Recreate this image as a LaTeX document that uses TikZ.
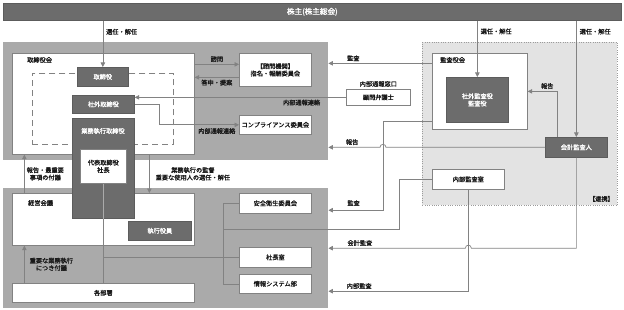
\documentclass[tikz,border=0pt]{standalone}
\usepackage{fontspec}
\setmainfont{Noto Sans CJK JP}[FakeBold=1.2]
\usepackage{tikz}
\usetikzlibrary{arrows.meta,positioning,calc}
\usepackage{xcolor}
\definecolor{darkbox}{RGB}{108,108,108}
\definecolor{regiongray}{RGB}{170,170,170}
\definecolor{auditgray}{RGB}{227,227,227}
\definecolor{linegray}{RGB}{130,130,130}
\definecolor{textgray}{RGB}{25,25,25}

\begin{document}
\begin{tikzpicture}[x=1pt,y=-1pt,>={Triangle[length=4.5pt,width=4.5pt]},
  font=\fontsize{6.2}{7.4}\selectfont,
  wbox/.style={draw=linegray,line width=0.7pt,fill=white,anchor=north west,inner sep=0pt,text=textgray},
  dbox/.style={draw=darkbox!85!black,line width=0.7pt,fill=darkbox,anchor=north west,inner sep=0pt,text=white},
  region/.style={fill=regiongray,anchor=north west,inner sep=0pt},
  conn/.style={draw=linegray,line width=0.7pt},
  tag/.style={text=textgray,inner sep=1pt}]
  \useasboundingbox (0,0) rectangle (624,310);

  % shareholders
  \node[dbox,minimum width=618pt,minimum height=17pt,font=\fontsize{7.6}{8.6}\selectfont] (kabunushi) at (3,3) {株主(株主総会)};

  % regions
  \node[region,minimum width=325pt,minimum height=118pt] (upper) at (3,42) {};
  \node[region,minimum width=325pt,minimum height=120pt] (lower) at (3,188) {};
  \node[draw=linegray!80,line width=0.7pt,dash pattern=on 1pt off 1.3pt,fill=auditgray,anchor=north west,inner sep=0pt,minimum width=195pt,minimum height=163pt] (kansaarea) at (422,42) {};

  % board of directors
  \node[wbox,minimum width=182pt,minimum height=101pt] (torikai) at (12,53) {};
  \node[tag,anchor=west] (torikailbl) at (26,60) {取締役会};
  \node[draw=linegray,line width=0.7pt,dash pattern=on 6pt off 4pt,anchor=north west,inner sep=0pt,minimum width=141pt,minimum height=71pt] (innerdash) at (32,73) {};
  \node[dbox,minimum width=51pt,minimum height=19pt] (torishimari) at (77,67) {取締役};
  \node[dbox,minimum width=62pt,minimum height=18pt] (shagai) at (72,95) {社外取締役};

  % management meeting
  \node[wbox,minimum width=182pt,minimum height=52pt] (keiei) at (12,193) {};
  \node[tag,anchor=west] (keieilbl) at (27,203) {経営会議};
  \node[dbox,minimum width=63pt,minimum height=19pt] (shikko) at (128,221) {執行役員};
  \node[wbox,minimum width=182pt,minimum height=19pt] (kakubusho) at (12,283) {各部署};

  \node[dbox,minimum width=62pt,minimum height=100pt] (gyomu) at (72,118) {};
  \node[tag,text=white] (gyomulbl) at (103,131) {業務執行取締役};
  \node[wbox,minimum width=46pt,minimum height=34pt,align=center] (shacho) at (80,149) {代表取締役\\社長};

  % committees and departments
  \node[wbox,minimum width=72pt,minimum height=33pt,align=center] (shimon) at (239,53) {【諮問機関】\\指名・報酬委員会};
  \node[wbox,minimum width=72pt,minimum height=19pt] (compliance) at (239,115) {コンプライアンス委員会};
  \node[wbox,minimum width=72pt,minimum height=20pt] (anzen) at (239,193) {安全衛生委員会};
  \node[wbox,minimum width=72pt,minimum height=20pt] (shachoshitsu) at (239,247) {社長室};
  \node[wbox,minimum width=72pt,minimum height=19pt] (joho) at (239,274) {情報システム部};

  % lawyer
  \node[wbox,minimum width=64pt,minimum height=16pt] (komon) at (346,89) {顧問弁護士};
  \node[tag,above=1pt of komon] (madoguchi) {内部通報窓口};

  % auditors
  \node[wbox,minimum width=95pt,minimum height=76pt] (kansayakukai) at (432,53) {};
  \node[tag,anchor=west] (kansayakukailbl) at (439,60) {監査役会};
  \node[dbox,minimum width=62pt,minimum height=45pt,align=center] (kansayaku) at (446,77) {社外監査役\\監査役};
  \node[dbox,minimum width=62pt,minimum height=20pt] (kaikei) at (545,137) {会計監査人};
  \node[wbox,minimum width=72pt,minimum height=20pt] (naibu) at (432,169) {内部監査室};
  \node[tag,anchor=south east] (renkei) at (615,203) {【連携】};

  % appointment
  \draw[conn,->] (kabunushi.south -| torishimari) -- node[tag,right=2pt,pos=0.24] {選任・解任} (torishimari.north);
  \draw[conn,->] (kabunushi.south -| kansayaku) -- node[tag,right=2pt,pos=0.19] {選任・解任} (kansayaku.north);
  \draw[conn,->] (kabunushi.south -| kaikei) -- node[tag,right=2pt,pos=0.094] {選任・解任} (kaikei.north);

  % advisory committee
  \coordinate (shimonin) at ([yshift=5.5pt]shimon.west);
  \coordinate (shimonout) at ([yshift=-7.5pt]shimon.west);
  \draw[conn,->] (torikai.east |- shimonin) -- node[tag,above=1pt] {諮問} (shimonin);
  \draw[conn,->] (shimonout) -- node[tag,below=1pt] {答申・提案} (torikai.east |- shimonout);

  % whistleblowing
  \draw[conn,->] (komon.west) -- node[tag,below=1pt,pos=0.21] {内部通報連絡} (shagai.east |- komon.west);
  \draw[conn,->] (shagai.east) -- ++(25,0) |- node[tag,below=2pt,pos=0.86] {内部通報連絡} (compliance.west);

  % audit lines
  \draw[conn,->] ([yshift=28pt]kansayakukai.west) coordinate (kansaA) -- node[tag,above=1pt,pos=0.76] {監査} (upper.east |- kansaA);
  \draw[conn,->] ([yshift=-30pt]kansayakukai.west) -- ++(-49,0) coordinate (kansaB) |- node[tag,above=3pt,pos=0.77] {監査} ([yshift=38pt]lower.east);
  \draw[conn,->] (kaikei.west) -- ($(kansaB |- kaikei.west)+(3,0)$) .. controls +(0,-4) and +(0,-4) .. ($(kansaB |- kaikei.west)+(-3,0)$) -- node[tag,above=1pt,pos=0.54] {報告} (upper.east |- kaikei.west);
  \draw[conn,->] ([xshift=-19pt]kaikei.north) |- node[tag,above=1pt,pos=0.67] {報告} (kansayakukai.east);
  \draw[conn,->] (kaikei.south) -- (kaikei.south |- lower.east) -- ($(naibu.south |- lower.east)+(3,0)$) .. controls +(0,-4) and +(0,-4) .. ($(naibu.south |- lower.east)+(-3,0)$) -- node[tag,above=1pt,pos=0.77] {会計監査} (lower.east);
  \draw[conn,->] (naibu.south) |- node[tag,above=1pt,pos=0.89] {内部監査} ([yshift=-43pt]lower.east);

  % internal audit to departments
  \coordinate (busT) at ([xshift=-16pt]anzen.west);
  \coordinate (busB) at ([xshift=-16pt]joho.west);
  \coordinate (busM) at (223,229);
  \draw[conn] (anzen.west) -- (busT) -- (busB) -- (joho.west);
  \draw[conn] (naibu.west) -- ++(-33,0) |- (busM);

  % president lines
  \draw[conn] (shacho.south) -- (kakubusho.north);
  \draw[conn,draw=regiongray] (shacho.south) -- (shacho.south |- gyomu.south);
  \draw[conn] (shacho.south |- shachoshitsu.west) -- (shachoshitsu.west);

  % board <-> management meeting
  \draw[conn,->] ([xshift=-79pt]keiei.north) -- node[tag,right=1pt,align=center] {報告・最重要\\事項の付議} ([xshift=-79pt]torikai.south);
  \draw[conn,->] ([xshift=46pt]torikai.south) -- node[tag,right=5pt,align=center] {業務執行の監督\\重要な使用人の選任・解任} ([xshift=46pt]keiei.north);
  \draw[conn,->] ([xshift=-79pt]kakubusho.north) -- node[tag,right=4pt,align=center] {重要な業務執行\\につき付議} ([xshift=-79pt]keiei.south);
\end{tikzpicture}
\end{document}
